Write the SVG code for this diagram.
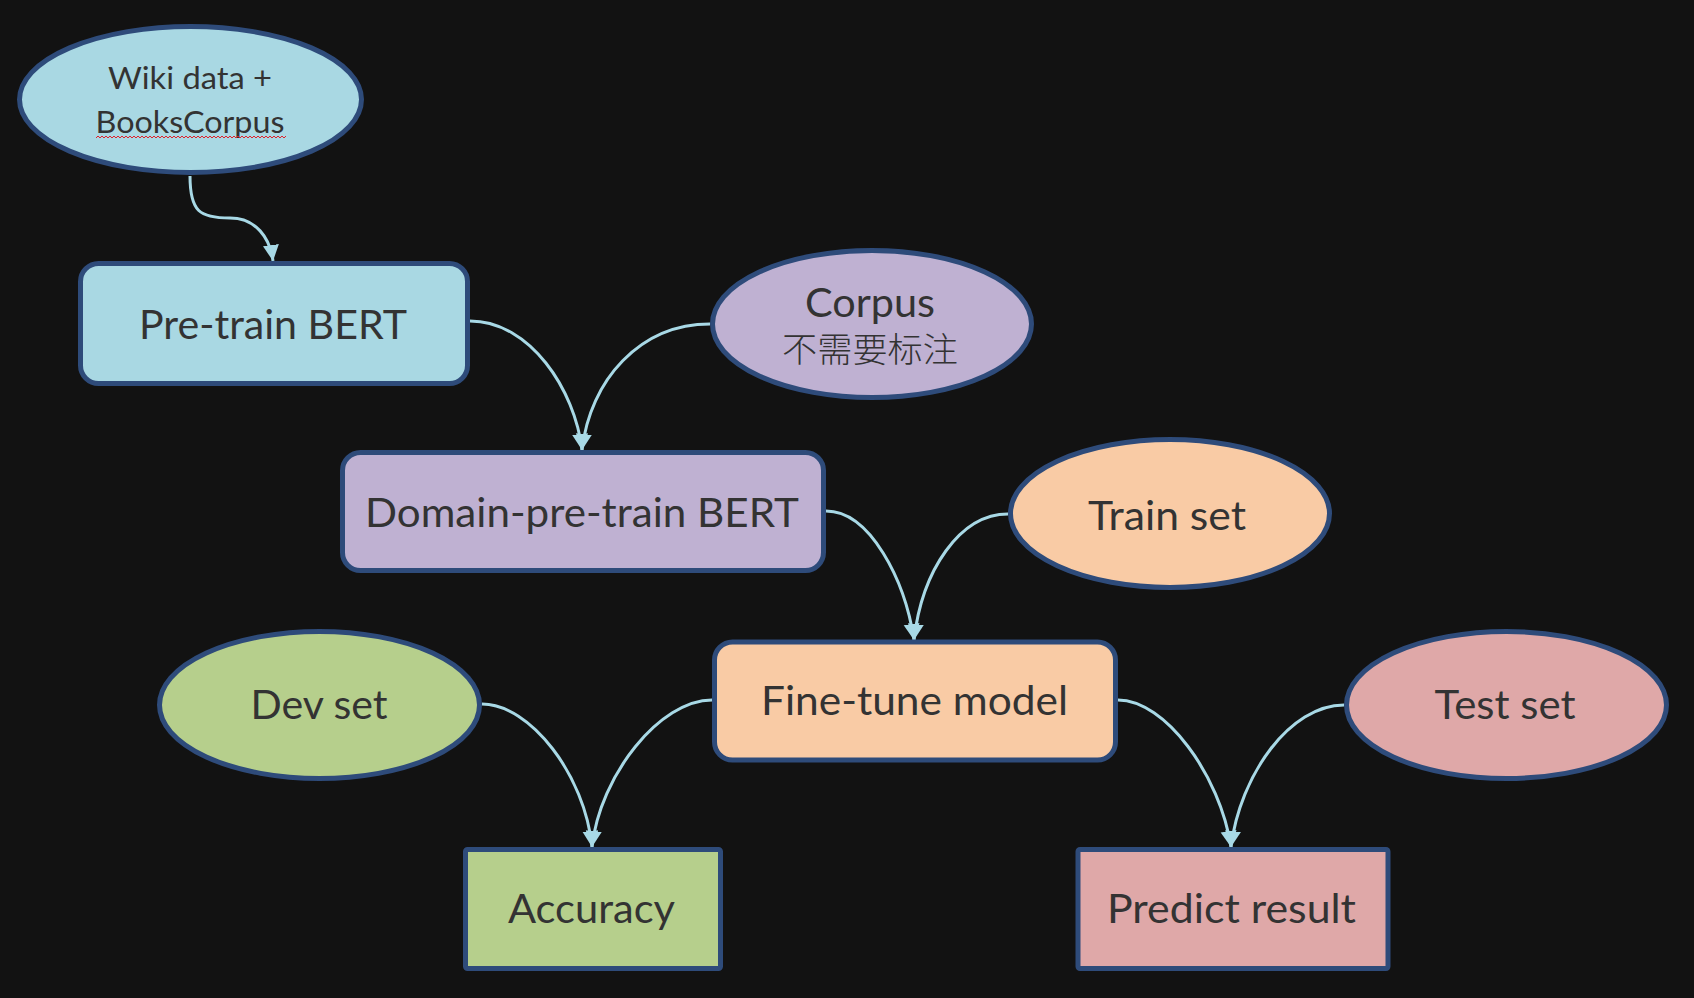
<svg xmlns="http://www.w3.org/2000/svg" width="1694" height="998" viewBox="0 0 1694 998">
<style>
.n{stroke:#2E4B7A;stroke-width:5}
.blue{fill:#A9D8E3}
.purple{fill:#BFB1D2}
.peach{fill:#F9CBA5}
.green{fill:#B6CF8C}
.pink{fill:#DFA8A8}
.t{font-family:Lato,"Liberation Sans","Noto Sans CJK SC",sans-serif;font-size:40px;fill:#333333;text-anchor:middle}
.c{fill:none;stroke:#A8D9E6;stroke-width:3}
</style>
<defs>
<marker id="ah" markerUnits="userSpaceOnUse" markerWidth="16" markerHeight="18" viewBox="0 0 16 18" refX="16" refY="8" orient="auto">
<path d="M0,0 L16,8 L0,16 Z" fill="#A8D9E6"/>
</marker>
<pattern id="wave" patternUnits="userSpaceOnUse" width="4" height="4" x="96" y="135">
<path d="M0,3 L2,1 L4,3" fill="none" stroke="#E0202A" stroke-width="1"/>
</pattern>
</defs>
<rect width="1694" height="998" fill="#121212"/>
<g id="connectors">
<path class="c" marker-end="url(#ah)" d="M190,176 C190,212 200,218 230,218 C256,218 270,238 273,261"/>
<path class="c" marker-end="url(#ah)" d="M470,321 C530,321 575,390 582,450"/>
<path class="c" marker-end="url(#ah)" d="M710,324 C640,324 590,380 582,450"/>
<path class="c" marker-end="url(#ah)" d="M826,511 C870,511 905,580 914,640"/>
<path class="c" marker-end="url(#ah)" d="M1008,514 C960,514 922,570 914,640"/>
<path class="c" marker-end="url(#ah)" d="M482,704 C530,704 585,775 592,847"/>
<path class="c" marker-end="url(#ah)" d="M712,700 C660,700 600,775 592,847"/>
<path class="c" marker-end="url(#ah)" d="M1118,700 C1165,700 1220,775 1231,847"/>
<path class="c" marker-end="url(#ah)" d="M1344,705 C1290,705 1240,775 1231,847"/>
</g>
<g id="wiki">
<ellipse class="n blue" cx="190.5" cy="99.5" rx="171" ry="73"/>
<text class="t" style="font-size:31px" x="190" y="89" textLength="164" lengthAdjust="spacingAndGlyphs">Wiki data +</text>
<text class="t" style="font-size:31px" x="190" y="133" textLength="189" lengthAdjust="spacingAndGlyphs">BooksCorpus</text>
<rect x="96" y="135" width="190" height="4" fill="url(#wave)"/>
</g>
<g id="pretrain">
<rect class="n blue" x="80.5" y="263.5" width="387" height="120" rx="18"/>
<text class="t" x="273" y="339" textLength="268" lengthAdjust="spacingAndGlyphs">Pre-train BERT</text>
</g>
<g id="corpus">
<ellipse class="n purple" cx="872" cy="324" rx="159.5" ry="73.5"/>
<text class="t" x="870" y="317" textLength="130" lengthAdjust="spacingAndGlyphs">Corpus</text>
<text class="t" style="font-family:'Noto Sans CJK SC',sans-serif;font-size:34px;font-weight:300" x="870" y="362" textLength="176" lengthAdjust="spacingAndGlyphs">不需要标注</text>
</g>
<g id="domain">
<rect class="n purple" x="342.5" y="452.5" width="481" height="118" rx="18"/>
<text class="t" x="582" y="527" textLength="434" lengthAdjust="spacingAndGlyphs">Domain-pre-train BERT</text>
</g>
<g id="trainset">
<ellipse class="n peach" cx="1170" cy="513.5" rx="159.5" ry="74"/>
<text class="t" x="1167" y="530" textLength="158" lengthAdjust="spacingAndGlyphs">Train set</text>
</g>
<g id="finetune">
<rect class="n peach" x="714.5" y="642" width="401" height="118" rx="18"/>
<text class="t" x="914.5" y="715" textLength="307" lengthAdjust="spacingAndGlyphs">Fine-tune model</text>
</g>
<g id="devset">
<ellipse class="n green" cx="319.5" cy="705" rx="160" ry="73.5"/>
<text class="t" x="319" y="719" textLength="137" lengthAdjust="spacingAndGlyphs">Dev set</text>
</g>
<g id="accuracy">
<rect class="n green" x="465.5" y="849.5" width="255" height="119" rx="2"/>
<text class="t" x="591.5" y="923" textLength="167" lengthAdjust="spacingAndGlyphs">Accuracy</text>
</g>
<g id="testset">
<ellipse class="n pink" cx="1506.5" cy="705" rx="160" ry="73.5"/>
<text class="t" x="1505" y="719" textLength="141" lengthAdjust="spacingAndGlyphs">Test set</text>
</g>
<g id="predict">
<rect class="n pink" x="1078" y="849.5" width="310" height="119" rx="2"/>
<text class="t" x="1231.5" y="923" textLength="249" lengthAdjust="spacingAndGlyphs">Predict result</text>
</g>
</svg>
